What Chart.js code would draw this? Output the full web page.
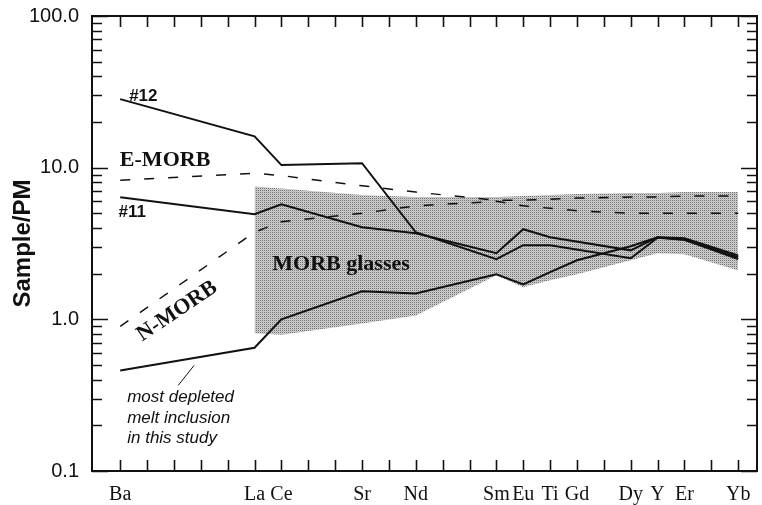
<!DOCTYPE html>
<html>
<head>
<meta charset="utf-8">
<script src="https://cdn.jsdelivr.net/npm/chart.js@4.4.0/dist/chart.umd.min.js"></script>
<style>
  html, body { margin: 0; padding: 0; background: #fff; }
</style>
</head>
<body>
<canvas id="chart" width="762" height="505"></canvas>
<script>
// element order on the x axis (position = slot in the full spidergram)
const elements   = ['Ba', 'La', 'Ce', 'Sr', 'Nd', 'Sm', 'Eu', 'Ti', 'Gd', 'Dy', 'Y', 'Er', 'Yb'];
const elementPos = [0, 5, 6, 9, 11, 14, 15, 16, 17, 19, 20, 21, 23];

// normalised to primitive mantle (null = not plotted)
const sample12  = [28.3, 16.1, 10.4, 10.7, 3.75, 2.49, 3.08, 3.08, null, 2.53, 3.45, 3.35, 2.50];
const sample11  = [6.38, 4.94, 5.74, 4.05, 3.70, 2.73, 3.93, 3.48, null, 2.85, 3.48, 3.42, 2.64];
const depleted  = [0.46, 0.65, 1.00, 1.53, 1.48, 1.98, 1.70, 2.05, 2.45, 3.03, 3.48, 3.35, 2.57];
const eMorb     = [8.27, 9.20, 8.87, 7.60, 6.90, 6.10, 6.10, 6.20, 6.30, 6.40, 6.40, 6.50, 6.50];
const nMorb     = [0.90, 3.75, 4.40, 5.00, 5.60, 6.00, 5.60, 5.40, 5.20, 5.00, 5.00, 5.00, 5.00];
const glassHigh = [null, 7.50, 7.30, 6.60, 6.40, 6.40, 6.50, 6.60, 6.70, 6.80, 6.80, 6.90, 6.90];
const glassLow  = [null, 0.81, 0.79, 0.94, 1.06, 1.95, 1.63, 1.81, 1.98, 2.45, 2.73, 2.69, 2.10];

const yMajor = [0.1, 1, 10, 100];

function toPoints(vals) {
  return elementPos.map((x, i) => ({ x: x, y: vals[i] })).filter(p => p.y != null);
}

// stippled grey for the MORB glass field
const pc = document.createElement('canvas');
pc.width = 2; pc.height = 2;
const pctx = pc.getContext('2d');
pctx.fillStyle = '#d2d2d2'; pctx.fillRect(0, 0, 2, 2);
pctx.fillStyle = '#6e6e6e'; pctx.fillRect(0, 0, 1, 1);
pctx.fillStyle = '#b9b9b9'; pctx.fillRect(1, 1, 1, 1);
const stipple = pctx.createPattern(pc, 'repeat');

const labelAt = {};
elementPos.forEach((p, i) => { labelAt[p] = elements[i]; });

const ink = '#111';
const solid = (vals) => ({
  data: toPoints(vals), borderColor: ink, borderWidth: 2, pointRadius: 0,
  fill: false, tension: 0, order: 0
});
const dashed = (vals) => ({
  data: toPoints(vals), borderColor: ink, borderWidth: 1.5, borderDash: [10, 14],
  pointRadius: 0, fill: false, tension: 0, order: 1
});

// text notes, placed in data units
const serifBold = 'bold 22px "Liberation Serif", "Times New Roman"';
const sansBold = 'bold 17px "Liberation Sans", Arial';
const sansItalic = 'italic 17px "Liberation Sans", Arial';
const notes = [
  { text: '#12', x: 0.86, y: 29.6, font: sansBold, align: 'center' },
  { text: 'E-MORB', x: 1.67, y: 11.2, font: serifBold, align: 'center' },
  { text: '#11', x: 0.45, y: 5.1, font: sansBold, align: 'center' },
  { text: 'N-MORB', x: 2.12, y: 1.13, font: serifBold, align: 'center', rot: -34 },
  { text: 'MORB glasses', x: 8.22, y: 2.3, font: serifBold, align: 'center' },
  { text: 'most depleted', x: 0.26, y: 0.306, font: sansItalic, align: 'left' },
  { text: 'melt inclusion', x: 0.26, y: 0.222, font: sansItalic, align: 'left' },
  { text: 'in this study', x: 0.26, y: 0.164, font: sansItalic, align: 'left' }
];
const leader = [{ x: 2.75, y: 0.497 }, { x: 2.16, y: 0.367 }];

const framePlugin = {
  id: 'frame',
  afterDatasetsDraw(chart) {
    const { ctx, scales: { x, y } } = chart;
    ctx.save();
    ctx.fillStyle = ink;
    ctx.textBaseline = 'middle';
    notes.forEach(n => {
      ctx.save();
      ctx.translate(x.getPixelForValue(n.x), y.getPixelForValue(n.y));
      if (n.rot) ctx.rotate(n.rot * Math.PI / 180);
      ctx.font = n.font;
      ctx.textAlign = n.align;
      ctx.fillText(n.text, 0, 0);
      ctx.restore();
    });
    ctx.strokeStyle = ink;
    ctx.lineWidth = 1;
    ctx.beginPath();
    ctx.moveTo(x.getPixelForValue(leader[0].x), y.getPixelForValue(leader[0].y));
    ctx.lineTo(x.getPixelForValue(leader[1].x), y.getPixelForValue(leader[1].y));
    ctx.stroke();
    ctx.restore();
  },
  afterDraw(chart) {
    const { ctx, chartArea: a, scales: { x, y } } = chart;
    ctx.save();
    ctx.strokeStyle = ink;
    ctx.lineWidth = 2;
    ctx.strokeRect(a.left, a.top, a.right - a.left, a.bottom - a.top);
    ctx.lineWidth = 1.6;
    ctx.beginPath();
    x.ticks.forEach(t => {
      const px = Math.round(x.getPixelForValue(t.value)) + 0.5;
      ctx.moveTo(px, a.bottom); ctx.lineTo(px, a.bottom - 11);
      ctx.moveTo(px, a.top); ctx.lineTo(px, a.top + 11);
    });
    y.ticks.forEach(t => {
      const py = Math.round(y.getPixelForValue(t.value)) + 0.5;
      const lg = Math.log10(t.value);
      const len = Math.abs(lg - Math.round(lg)) < 1e-6 ? 16 : 10;
      ctx.moveTo(a.left, py); ctx.lineTo(a.left + len, py);
      ctx.moveTo(a.right, py); ctx.lineTo(a.right - len, py);
    });
    ctx.stroke();
    ctx.restore();
  }
};

new Chart(document.getElementById('chart'), {
  type: 'line',
  data: {
    datasets: [
      solid(sample12),
      solid(sample11),
      solid(depleted),
      dashed(eMorb),
      dashed(nMorb),
      { data: toPoints(glassHigh), borderWidth: 0, pointRadius: 0, fill: '+1',
        backgroundColor: stipple, borderColor: 'rgba(0,0,0,0)', tension: 0, order: 5 },
      { data: toPoints(glassLow), borderWidth: 0, pointRadius: 0, fill: false,
        borderColor: 'rgba(0,0,0,0)', tension: 0, order: 5 }
    ]
  },
  options: {
    responsive: false,
    animation: false,
    devicePixelRatio: 1,
    layout: { padding: { left: 0, right: 5, top: 16, bottom: 0 } },
    plugins: { legend: { display: false }, tooltip: { enabled: false } },
    scales: {
      x: {
        type: 'linear', min: -1.05, max: 23.7,
        grid: { display: false, drawTicks: false },
        border: { display: false },
        afterBuildTicks: (s) => {
          const t = [];
          for (let i = 0; i <= 23; i++) t.push({ value: i });
          s.ticks = t;
        },
        afterFit: (s) => { s.height = 34; s.paddingLeft = 0; s.paddingRight = 0; },
        ticks: {
          autoSkip: false, maxRotation: 0, padding: 12, color: ink,
          font: { family: '"Liberation Serif", "Times New Roman"', size: 20 },
          callback: (v) => labelAt[v] || ''
        }
      },
      y: {
        type: 'logarithmic', min: 0.1, max: 100,
        grid: { display: false, drawTicks: false },
        border: { display: false },
        afterBuildTicks: (s) => {
          const t = [];
          yMajor.slice(0, 3).forEach(d => {
            for (let k = 1; k <= 9; k++) t.push({ value: +(d * k).toPrecision(3) });
          });
          t.push({ value: 100 });
          s.ticks = t;
        },
        afterFit: (s) => { s.width = 92; s.paddingTop = 0; s.paddingBottom = 0; },
        title: {
          display: true, text: 'Sample/PM', color: ink,
          font: { family: '"Liberation Sans", Arial', size: 24, weight: 'bold' },
          padding: { top: 9, bottom: 0 }
        },
        ticks: {
          autoSkip: false, padding: 13, color: ink,
          font: { family: '"Liberation Sans", Arial', size: 20 },
          callback: (v) => {
            const lg = Math.log10(v);
            return Math.abs(lg - Math.round(lg)) < 1e-6 ? v.toFixed(1) : '';
          }
        }
      }
    }
  },
  plugins: [framePlugin]
});
</script>
</body>
</html>
